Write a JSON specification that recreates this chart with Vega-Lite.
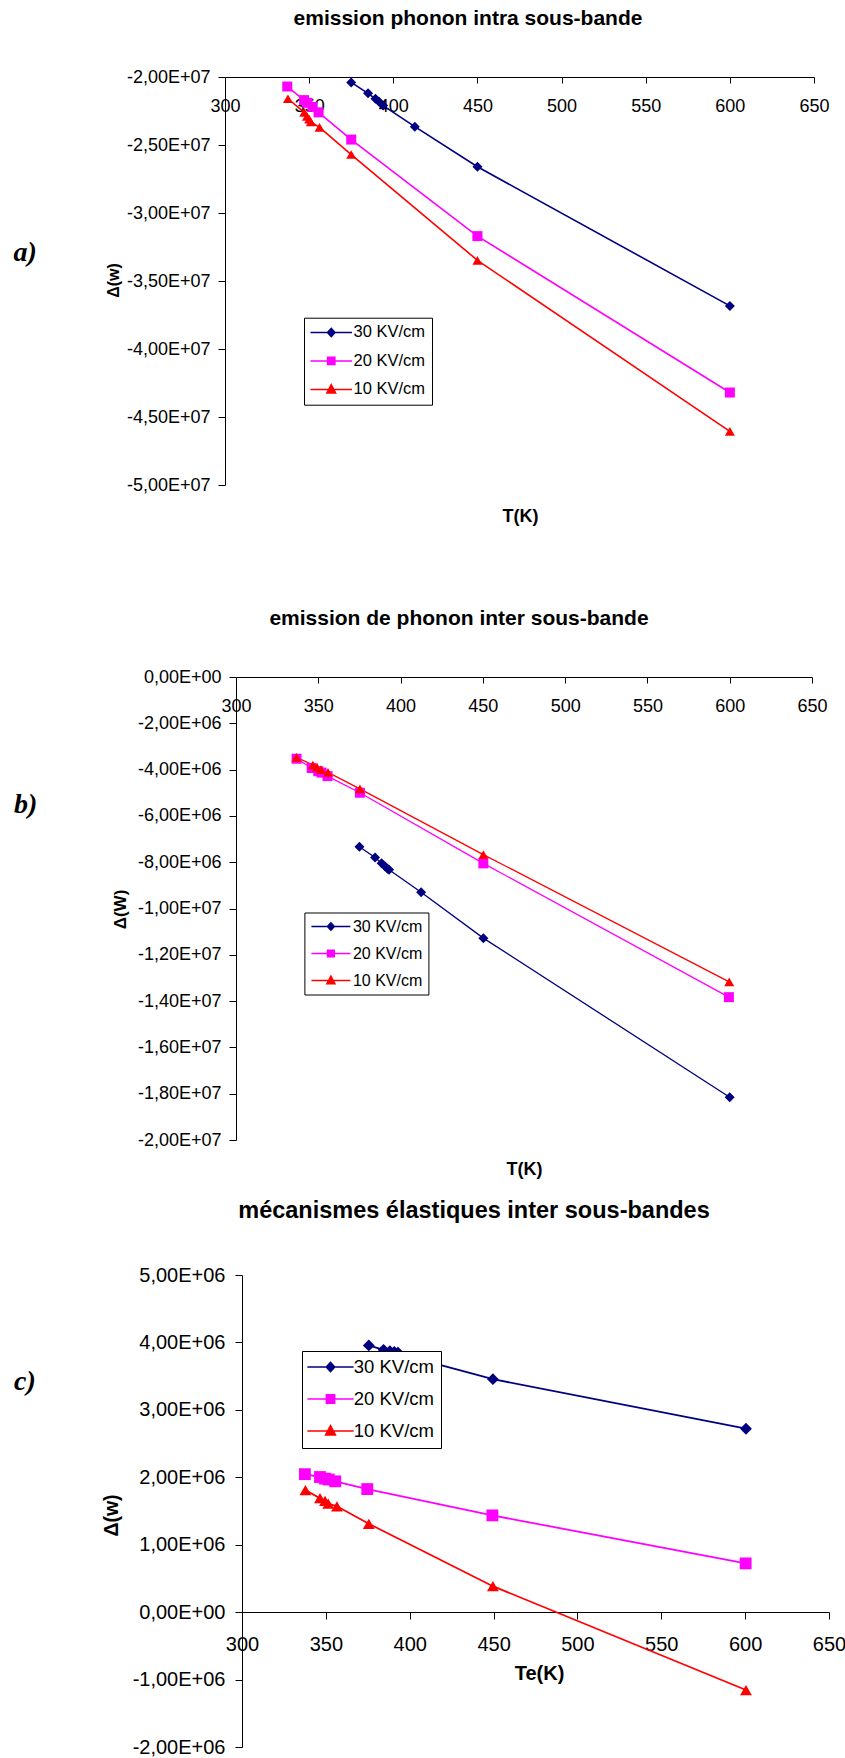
{
  "$schema": "https://vega.github.io/schema/vega-lite/v6.json",
  "padding": {"left": 13, "top": 8, "right": 0, "bottom": 0},
  "background": "white",
  "spacing": 0,
  "config": {
    "view": {"stroke": null},
    "axis": {"domainColor": "black", "tickColor": "black", "labelColor": "black", "titleColor": "black", "grid": false, "labelFont": "Liberation Sans", "titleFont": "Liberation Sans", "domainWidth": 1, "tickWidth": 1, "labelFlush": false, "labelOverlap": false},
    "legend": {"labelFont": "Liberation Sans", "labelColor": "black", "strokeColor": "black", "fillColor": "white", "symbolStrokeWidth": 0, "labelLimit": 300, "cornerRadius": 0, "symbolOffset": 12.5, "labelOffset": 14, "title": null},
    "title": {"font": "Liberation Sans", "fontWeight": "bold", "color": "black"}
  },
  "datasets": {
    "a": [
      {"T": 375, "D": -2.04e7, "s": "30 KV/cm"},
      {"T": 385, "D": -2.12e7, "s": "30 KV/cm"},
      {"T": 389.4, "D": -2.16e7, "s": "30 KV/cm"},
      {"T": 391.4, "D": -2.18e7, "s": "30 KV/cm"},
      {"T": 394, "D": -2.21e7, "s": "30 KV/cm"},
      {"T": 412.8, "D": -2.365e7, "s": "30 KV/cm"},
      {"T": 450, "D": -2.66e7, "s": "30 KV/cm"},
      {"T": 600, "D": -3.683e7, "s": "30 KV/cm"},
      {"T": 337, "D": -2.07e7, "s": "20 KV/cm"},
      {"T": 347, "D": -2.17e7, "s": "20 KV/cm"},
      {"T": 349, "D": -2.19e7, "s": "20 KV/cm"},
      {"T": 352, "D": -2.22e7, "s": "20 KV/cm"},
      {"T": 355.6, "D": -2.26e7, "s": "20 KV/cm"},
      {"T": 375, "D": -2.46e7, "s": "20 KV/cm"},
      {"T": 450, "D": -3.17e7, "s": "20 KV/cm"},
      {"T": 600, "D": -4.32e7, "s": "20 KV/cm"},
      {"T": 337.4, "D": -2.16e7, "s": "10 KV/cm"},
      {"T": 347.1, "D": -2.26e7, "s": "10 KV/cm"},
      {"T": 348.7, "D": -2.29e7, "s": "10 KV/cm"},
      {"T": 350, "D": -2.31e7, "s": "10 KV/cm"},
      {"T": 351, "D": -2.33e7, "s": "10 KV/cm"},
      {"T": 356.2, "D": -2.37e7, "s": "10 KV/cm"},
      {"T": 375, "D": -2.57e7, "s": "10 KV/cm"},
      {"T": 450, "D": -3.348e7, "s": "10 KV/cm"},
      {"T": 600, "D": -4.606e7, "s": "10 KV/cm"}
    ],
    "b": [
      {"T": 375, "D": -7.33e6, "s": "30 KV/cm"},
      {"T": 384.5, "D": -7.8e6, "s": "30 KV/cm"},
      {"T": 388.5, "D": -8.05e6, "s": "30 KV/cm"},
      {"T": 390.5, "D": -8.17e6, "s": "30 KV/cm"},
      {"T": 392.1, "D": -8.28e6, "s": "30 KV/cm"},
      {"T": 393, "D": -8.33e6, "s": "30 KV/cm"},
      {"T": 412.5, "D": -9.3e6, "s": "30 KV/cm"},
      {"T": 450.3, "D": -1.128e7, "s": "30 KV/cm"},
      {"T": 600, "D": -1.815e7, "s": "30 KV/cm"},
      {"T": 336.8, "D": -3.53e6, "s": "20 KV/cm"},
      {"T": 346, "D": -3.93e6, "s": "20 KV/cm"},
      {"T": 350, "D": -4.07e6, "s": "20 KV/cm"},
      {"T": 352, "D": -4.13e6, "s": "20 KV/cm"},
      {"T": 355.6, "D": -4.28e6, "s": "20 KV/cm"},
      {"T": 375.3, "D": -5.0e6, "s": "20 KV/cm"},
      {"T": 450.3, "D": -8.05e6, "s": "20 KV/cm"},
      {"T": 599.5, "D": -1.383e7, "s": "20 KV/cm"},
      {"T": 336.8, "D": -3.47e6, "s": "10 KV/cm"},
      {"T": 346.7, "D": -3.8e6, "s": "10 KV/cm"},
      {"T": 349.3, "D": -3.9e6, "s": "10 KV/cm"},
      {"T": 351.6, "D": -4.0e6, "s": "10 KV/cm"},
      {"T": 355.9, "D": -4.12e6, "s": "10 KV/cm"},
      {"T": 375.3, "D": -4.83e6, "s": "10 KV/cm"},
      {"T": 450.3, "D": -7.67e6, "s": "10 KV/cm"},
      {"T": 599.7, "D": -1.317e7, "s": "10 KV/cm"}
    ],
    "c": [
      {"T": 375.6, "D": 3.956e6, "s": "30 KV/cm"},
      {"T": 384.4, "D": 3.89e6, "s": "30 KV/cm"},
      {"T": 388.2, "D": 3.87e6, "s": "30 KV/cm"},
      {"T": 390.8, "D": 3.86e6, "s": "30 KV/cm"},
      {"T": 393, "D": 3.85e6, "s": "30 KV/cm"},
      {"T": 413, "D": 3.7e6, "s": "30 KV/cm"},
      {"T": 449.6, "D": 3.455e6, "s": "30 KV/cm"},
      {"T": 600.5, "D": 2.72e6, "s": "30 KV/cm"},
      {"T": 337.5, "D": 2.046e6, "s": "20 KV/cm"},
      {"T": 346.5, "D": 2.004e6, "s": "20 KV/cm"},
      {"T": 349.5, "D": 1.98e6, "s": "20 KV/cm"},
      {"T": 351.7, "D": 1.967e6, "s": "20 KV/cm"},
      {"T": 355.6, "D": 1.94e6, "s": "20 KV/cm"},
      {"T": 374.7, "D": 1.825e6, "s": "20 KV/cm"},
      {"T": 449.3, "D": 1.435e6, "s": "20 KV/cm"},
      {"T": 600.3, "D": 7.23e5, "s": "20 KV/cm"},
      {"T": 337.8, "D": 1.81e6, "s": "10 KV/cm"},
      {"T": 346.5, "D": 1.69e6, "s": "10 KV/cm"},
      {"T": 349.5, "D": 1.65e6, "s": "10 KV/cm"},
      {"T": 351.4, "D": 1.61e6, "s": "10 KV/cm"},
      {"T": 356.6, "D": 1.57e6, "s": "10 KV/cm"},
      {"T": 375.6, "D": 1.31e6, "s": "10 KV/cm"},
      {"T": 449.6, "D": 3.85e5, "s": "10 KV/cm"},
      {"T": 600.5, "D": -1.155e6, "s": "10 KV/cm"}
    ]
  },
  "vconcat": [
    {
      "width": 589, "height": 408,
      "title": {"text": "emission phonon intra sous-bande", "fontSize": 21, "anchor": "middle", "frame": "group", "dx": -51.5, "baseline": "alphabetic", "offset": 22},
      "data": {"name": "a"},
      "encoding": {
        "x": {"field": "T", "type": "quantitative",
          "scale": {"domain": [300, 650], "nice": false, "zero": false},
          "axis": {"orient": "bottom", "offset": -408, "values": [300, 350, 400, 450, 500, 550, 600, 650], "tickSize": 6, "labelPadding": 14, "labelFontSize": 18, "title": "T(K)", "titleFontSize": 18, "titleFontWeight": "bold", "titleX": 295, "titleY": 439.5, "titleBaseline": "middle", "titleAlign": "center", "minExtent": 529.6, "maxExtent": 600}
        }
      },
      "layer": [
        {
          "mark": {"type": "line", "strokeWidth": 1.6},
          "encoding": {
            "y": {"field": "D", "type": "quantitative",
              "scale": {"domain": [-5e7, -2e7], "nice": false, "zero": false},
              "axis": {"orient": "left", "values": [-5e7, -4.5e7, -4e7, -3.5e7, -3e7, -2.5e7, -2e7], "labelExpr": "replace(replace(replace(format(datum.value,'.2e'),'\u2212','-'),'.',','),'e+','E+0')", "tickSize": 7, "labelPadding": 8, "labelFontSize": 18, "title": "Δ(w)", "titleFontSize": 16, "titleFontWeight": "bold", "titleAngle": 270, "titleX": -112, "titleY": 203, "titleAlign": "center", "titleBaseline": "middle"}},
            "color": {"field": "s", "type": "nominal", "scale": {"domain": ["30 KV/cm", "20 KV/cm", "10 KV/cm"], "range": ["#000080", "#ff00ff", "#ff0000"]}, "legend": null}
          }
        },
        {
          "mark": {"type": "point", "filled": true, "opacity": 1, "size": 100},
          "encoding": {
            "y": {"field": "D", "type": "quantitative",
              "axis": {"orient": "left", "domain": false, "ticks": false, "labels": false, "title": "a)", "titleFont": "Liberation Serif", "titleFontStyle": "italic", "titleFontWeight": "bold", "titleFontSize": 28, "titleAngle": 0, "titleAlign": "left", "titleBaseline": "middle", "titleX": -212, "titleY": 175}},
            "color": {"field": "s", "type": "nominal", "scale": {"domain": ["30 KV/cm", "20 KV/cm", "10 KV/cm"], "range": ["#000080", "#ff00ff", "#ff0000"]}, "legend": null},
            "shape": {"field": "s", "type": "nominal", "scale": {"domain": ["30 KV/cm", "20 KV/cm", "10 KV/cm"], "range": ["diamond", "square", "triangle-up"]}, "legend": null}
          }
        },
        {
          "transform": [{"filter": "datum.T < 0"}],
          "mark": {"type": "point", "filled": true, "opacity": 1},
          "encoding": {
            "color": {"field": "s", "type": "nominal", "scale": {"domain": ["30 KV/cm", "20 KV/cm", "10 KV/cm"], "range": ["#000080", "#ff00ff", "#ff0000"]},
              "legend": {"orient": "none", "legendX": 79, "legendY": 240.7, "title": null, "symbolSize": 64, "labelFontSize": 16.5, "rowPadding": 11.5, "padding": 6.5}},
            "shape": {"field": "s", "type": "nominal", "scale": {"domain": ["30 KV/cm", "20 KV/cm", "10 KV/cm"], "range": ["M-5.2,-0.19H5.2V0.19H-5.2Z M0,-1.3L1.2,0L0,1.3L-1.2,0Z", "M-5.2,-0.19H5.2V0.19H-5.2Z M-1.1,-1.1H1.1V1.1H-1.1Z", "M-5.2,-0.19H5.2V0.19H-5.2Z M0,-1.6L1.4,1.05H-1.4Z"]},
              "legend": {"orient": "none", "legendX": 79, "legendY": 240.7, "title": null, "symbolSize": 64, "labelFontSize": 16.5, "rowPadding": 11.5, "padding": 6.5}}
          }
        }
      ],
      "resolve": {"scale": {"color": "independent", "shape": "independent"}, "axis": {"y": "independent"}}
    },
    {
      "width": 587, "height": 463,
      "title": {"text": "emission de phonon inter sous-bande", "fontSize": 21, "anchor": "middle", "frame": "group", "dx": -59.5, "baseline": "alphabetic", "offset": 22.3},
      "data": {"name": "b"},
      "encoding": {
        "x": {"field": "T", "type": "quantitative",
          "scale": {"domain": [300, 650], "nice": false, "zero": false, "range": [11, 587]},
          "axis": {"orient": "bottom", "offset": -463, "values": [300, 350, 400, 450, 500, 550, 600, 650], "tickSize": 6, "labelPadding": 14, "labelFontSize": 18, "title": "T(K)", "titleFontSize": 18, "titleFontWeight": "bold", "titleX": 299, "titleY": 492.5, "titleBaseline": "middle", "titleAlign": "center", "minExtent": 521, "maxExtent": 600}
        }
      },
      "layer": [
        {
          "mark": {"type": "line", "strokeWidth": 1.3},
          "encoding": {
            "y": {"field": "D", "type": "quantitative",
              "scale": {"domain": [-2e7, 0], "nice": false, "zero": false},
              "axis": {"orient": "left", "offset": -11, "values": [-2e7, -1.8e7, -1.6e7, -1.4e7, -1.2e7, -1e7, -8e6, -6e6, -4e6, -2e6, 0], "labelExpr": "replace(replace(replace(format(datum.value,'.2e'),'\u2212','-'),'.',','),'e+','E+0')", "tickSize": 7, "labelPadding": 8, "labelFontSize": 18, "title": "Δ(W)", "titleFontSize": 17, "titleFontWeight": "bold", "titleAngle": 270, "titleX": -116, "titleY": 232, "titleAlign": "center", "titleBaseline": "middle"}},
            "color": {"field": "s", "type": "nominal", "scale": {"domain": ["30 KV/cm", "20 KV/cm", "10 KV/cm"], "range": ["#000080", "#ff00ff", "#ff0000"]}, "legend": null}
          }
        },
        {
          "mark": {"type": "point", "filled": true, "opacity": 1, "size": 100},
          "encoding": {
            "y": {"field": "D", "type": "quantitative",
              "axis": {"orient": "left", "domain": false, "ticks": false, "labels": false, "title": "b)", "titleFont": "Liberation Serif", "titleFontStyle": "italic", "titleFontWeight": "bold", "titleFontSize": 28, "titleAngle": 0, "titleAlign": "left", "titleBaseline": "middle", "titleX": -211.5, "titleY": 127}},
            "color": {"field": "s", "type": "nominal", "scale": {"domain": ["30 KV/cm", "20 KV/cm", "10 KV/cm"], "range": ["#000080", "#ff00ff", "#ff0000"]}, "legend": null},
            "shape": {"field": "s", "type": "nominal", "scale": {"domain": ["30 KV/cm", "20 KV/cm", "10 KV/cm"], "range": ["diamond", "square", "triangle-up"]}, "legend": null}
          }
        },
        {
          "transform": [{"filter": "datum.T < 0"}],
          "mark": {"type": "point", "filled": true, "opacity": 1},
          "encoding": {
            "color": {"field": "s", "type": "nominal", "scale": {"domain": ["30 KV/cm", "20 KV/cm", "10 KV/cm"], "range": ["#000080", "#ff00ff", "#ff0000"]},
              "legend": {"orient": "none", "legendX": 79.4, "legendY": 235.5, "title": null, "symbolSize": 56, "labelFontSize": 16, "rowPadding": 11, "padding": 6}},
            "shape": {"field": "s", "type": "nominal", "scale": {"domain": ["30 KV/cm", "20 KV/cm", "10 KV/cm"], "range": ["M-5.2,-0.19H5.2V0.19H-5.2Z M0,-1.3L1.2,0L0,1.3L-1.2,0Z", "M-5.2,-0.19H5.2V0.19H-5.2Z M-1.1,-1.1H1.1V1.1H-1.1Z", "M-5.2,-0.19H5.2V0.19H-5.2Z M0,-1.6L1.4,1.05H-1.4Z"]},
              "legend": {"orient": "none", "legendX": 79.4, "legendY": 235.5, "title": null, "symbolSize": 56, "labelFontSize": 16, "rowPadding": 11, "padding": 6}}
          }
        }
      ],
      "resolve": {"scale": {"color": "independent", "shape": "independent"}, "axis": {"y": "independent"}}
    },
    {
      "width": 604, "height": 472,
      "title": {"text": "mécanismes élastiques inter sous-bandes", "fontSize": 23.5, "anchor": "middle", "frame": "group", "dx": -53, "baseline": "alphabetic", "offset": 24},
      "data": {"name": "c"},
      "encoding": {
        "x": {"field": "T", "type": "quantitative",
          "scale": {"domain": [300, 650], "nice": false, "zero": false, "range": [17, 604]},
          "axis": {"orient": "bottom", "offset": -135, "values": [300, 350, 400, 450, 500, 550, 600, 650], "tickSize": 7, "labelPadding": 15, "labelFontSize": 20, "title": "Te(K)", "titleFontSize": 20, "titleFontWeight": "bold", "titleX": 314, "titleY": 61, "titleBaseline": "middle", "titleAlign": "center"}
        }
      },
      "layer": [
        {
          "mark": {"type": "line", "strokeWidth": 1.8},
          "encoding": {
            "y": {"field": "D", "type": "quantitative",
              "scale": {"domain": [-2e6, 5e6], "nice": false, "zero": false},
              "axis": {"orient": "left", "offset": -17, "values": [-2e6, -1e6, 0, 1e6, 2e6, 3e6, 4e6, 5e6], "labelExpr": "replace(replace(replace(format(datum.value,'.2e'),'\u2212','-'),'.',','),'e+','E+0')", "tickSize": 7, "labelPadding": 10, "labelFontSize": 20, "title": "Δ(w)", "titleFontSize": 19.5, "titleFontWeight": "bold", "titleAngle": 270, "titleX": -130.5, "titleY": 240, "titleAlign": "center", "titleBaseline": "middle"}},
            "color": {"field": "s", "type": "nominal", "scale": {"domain": ["30 KV/cm", "20 KV/cm", "10 KV/cm"], "range": ["#000080", "#ff00ff", "#ff0000"]}, "legend": null}
          }
        },
        {
          "mark": {"type": "point", "filled": true, "opacity": 1, "size": 140},
          "encoding": {
            "y": {"field": "D", "type": "quantitative",
              "axis": {"orient": "left", "domain": false, "ticks": false, "labels": false, "title": "c)", "titleFont": "Liberation Serif", "titleFontStyle": "italic", "titleFontWeight": "bold", "titleFontSize": 28, "titleAngle": 0, "titleAlign": "left", "titleBaseline": "middle", "titleX": -211.5, "titleY": 106.5}},
            "color": {"field": "s", "type": "nominal", "scale": {"domain": ["30 KV/cm", "20 KV/cm", "10 KV/cm"], "range": ["#000080", "#ff00ff", "#ff0000"]}, "legend": null},
            "shape": {"field": "s", "type": "nominal", "scale": {"domain": ["30 KV/cm", "20 KV/cm", "10 KV/cm"], "range": ["diamond", "square", "triangle-up"]}, "legend": null}
          }
        },
        {
          "transform": [{"filter": "datum.T < 0"}],
          "mark": {"type": "point", "filled": true, "opacity": 1},
          "encoding": {
            "color": {"field": "s", "type": "nominal", "scale": {"domain": ["30 KV/cm", "20 KV/cm", "10 KV/cm"], "range": ["#000080", "#ff00ff", "#ff0000"]},
              "legend": {"orient": "none", "legendX": 77, "legendY": 76, "title": null, "symbolSize": 79, "labelFontSize": 18.5, "rowPadding": 13, "padding": 6.75}},
            "shape": {"field": "s", "type": "nominal", "scale": {"domain": ["30 KV/cm", "20 KV/cm", "10 KV/cm"], "range": ["M-5.2,-0.19H5.2V0.19H-5.2Z M0,-1.3L1.2,0L0,1.3L-1.2,0Z", "M-5.2,-0.19H5.2V0.19H-5.2Z M-1.1,-1.1H1.1V1.1H-1.1Z", "M-5.2,-0.19H5.2V0.19H-5.2Z M0,-1.6L1.4,1.05H-1.4Z"]},
              "legend": {"orient": "none", "legendX": 77, "legendY": 76, "title": null, "symbolSize": 79, "labelFontSize": 18.5, "rowPadding": 13, "padding": 6.75}}
          }
        }
      ],
      "resolve": {"scale": {"color": "independent", "shape": "independent"}, "axis": {"y": "independent"}}
    }
  ]
}
